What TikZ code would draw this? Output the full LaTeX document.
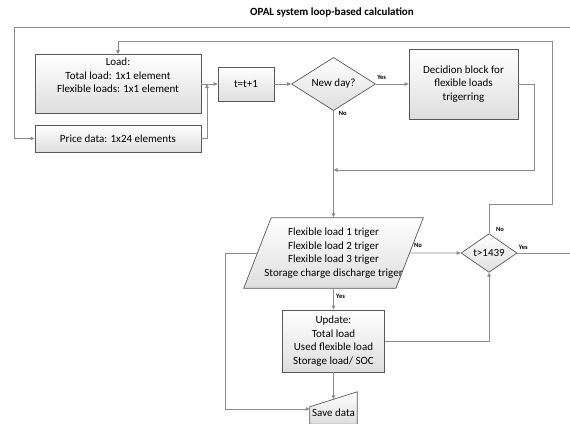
\documentclass[tikz,border=0pt]{standalone}
\usepackage{fontspec}
\setmainfont{Carlito}
\usepackage{tikz}
\usetikzlibrary{shapes.geometric,arrows.meta}

\begin{document}
\begin{tikzpicture}[->,>={Triangle[length=4pt,width=3.5pt]},x=1pt,y=-1pt,
   wire/.style={draw=black!45,line width=0.8pt},
   block/.style={rectangle,draw=black!65,line width=0.7pt,top color=white,bottom color=black!13,
     align=center,font=\fontsize{11}{13.5}\selectfont},
   choice/.style={block,diamond,inner sep=0pt},
   tag/.style={font=\fontsize{6.5}{7}\selectfont\bfseries}]

  \useasboundingbox (0,0) rectangle (570,423);
  \node[font=\fontsize{11}{13}\selectfont\bfseries](title) at (332,12) {OPAL system loop-based calculation};

  \node[block,minimum width=166pt,minimum height=52pt](load) at (118,84) {Load:\\Total load: 1x1 element\\Flexible loads: 1x1 element\\\strut};
  \node[block,minimum width=166pt,minimum height=27pt](price) at (118,138.5) {Price data: 1x24 elements};
  \node[block,minimum width=56pt,minimum height=34pt](tt) at (246,84) {t=t+1};
  \node[choice,minimum width=84pt,minimum height=50pt](newday) at (333.5,84) {New day?};
  \node[block,minimum width=109pt,minimum height=70pt](decision) at (463.5,84) {Decidion block for\\flexible loads\\trigerring};
  \node[block,trapezium,trapezium left angle=62.5,trapezium right angle=117.5,trapezium stretches,
     minimum width=180pt,minimum height=70.6pt,inner xsep=-10pt,inner ysep=0pt](para) at (333.5,253)
     {Flexible load 1 triger\\Flexible load 2 triger\\Flexible load 3 triger\\Storage charge discharge triger};
  \node[choice,minimum width=56pt,minimum height=33pt](tcheck) at (489,253) {t>1439};
  \node[block,minimum width=102pt,minimum height=62pt](update) at (333.5,341) {Update:\\Total load\\Used flexible load\\Storage load/ SOC};
  \node[minimum width=47pt,minimum height=30pt](save) at (333.5,409) {};
  \path[block,-] (save.south west) -- ([yshift=-13pt]save.north west) -- ([yshift=2pt]save.north east) -- (save.south east) -- cycle;
  \node[font=\fontsize{11}{13.5}\selectfont](savetext) at ([yshift=-4pt]save.center) {Save data};

  \coordinate (join) at (207,84);
  \coordinate (back) at (333.5,170);

  \foreach \from/\to in {load/tt,tt/newday,newday/decision,newday/para,para/update,para/tcheck}
    \draw[wire] (\from) -- (\to);
  \draw[wire] (price.east) -| (join);
  \draw[wire] (decision.east) -- ++(16,0) |- (back);
  \draw[wire] (update.east) -| (tcheck.south);
  \draw[wire] (update.south) -- ([yshift=-5.5pt]save.north);
  \draw[wire] (para.west) -- ++(-32,0) |- (save.west);
  \draw[wire] (tcheck.north) -- ++(0,-28.5) -| (552,41) -| (load.north);
  \draw[wire] (tcheck.east) -- (590,253) |- (14,27) |- (price.west);

  \node[tag](yes1) at (381.7,77.7) {Yes};
  \node[tag](no1) at (342.7,113.3) {No};
  \node[tag](no2) at (418,245.7) {No};
  \node[tag](yes2) at (340.5,296.7) {Yes};
  \node[tag](no3) at (500,229.3) {No};
  \node[tag](yes3) at (523.3,247.3) {Yes};
\end{tikzpicture}
\end{document}
